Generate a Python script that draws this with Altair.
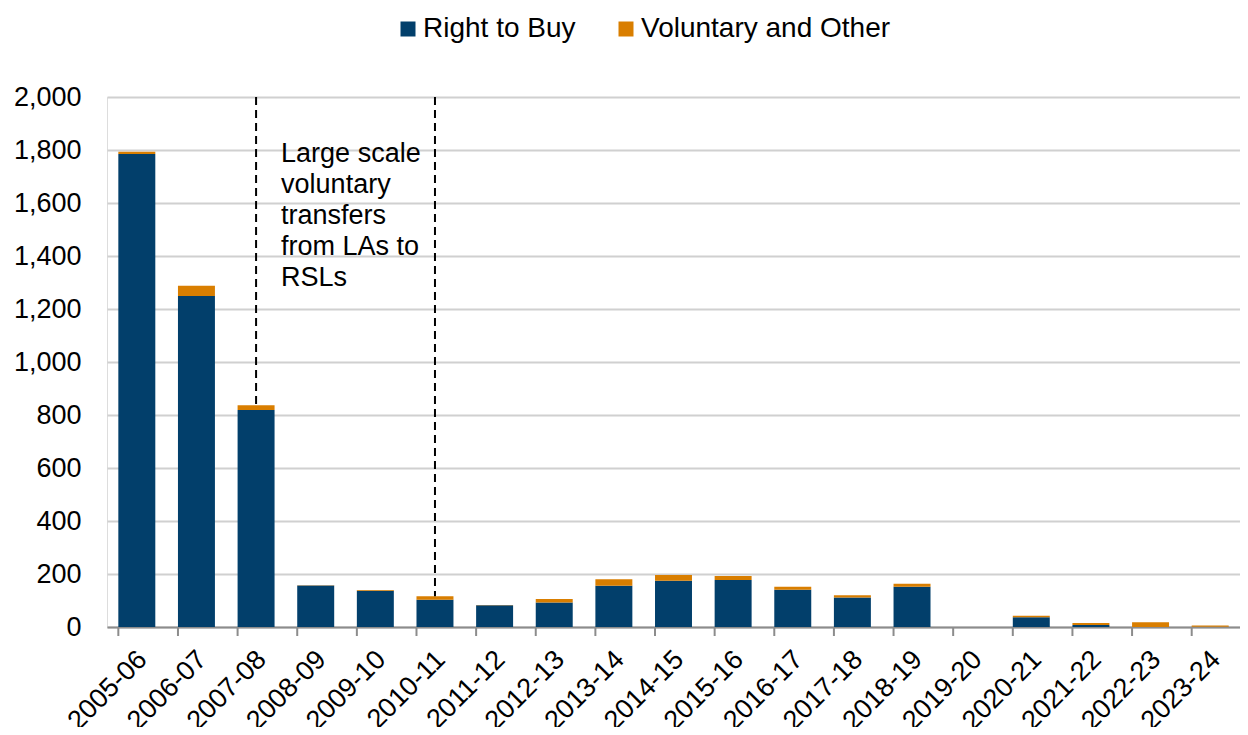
import altair as alt
import pandas as pd

periods = ["2005-06", "2006-07", "2007-08", "2008-09", "2009-10", "2010-11",
           "2011-12", "2012-13", "2013-14", "2014-15", "2015-16", "2016-17",
           "2017-18", "2018-19", "2019-20", "2020-21", "2021-22", "2022-23",
           "2023-24"]
right_to_buy = [1785, 1249, 819, 157, 137, 103, 82, 92, 156, 175, 177, 141,
                111, 152, 0, 37, 8, 0, 1]
voluntary = [8, 39, 18, 1, 3, 13, 1, 14, 24, 21, 15, 11, 9, 11, 0, 5, 7, 18, 5]
series = ["Right to Buy", "Voluntary and Other"]
colors = ["#023F6B", "#D97E00"]

marker_periods = ["2007-08", "2010-11"]
note_lines = ["Large scale", "voluntary", "transfers", "from LAs to", "RSLs"]

rows = []
for p, a, b in zip(periods, right_to_buy, voluntary):
    rows.append({"period": p, "series": series[0], "value": a, "ord": 0})
    rows.append({"period": p, "series": series[1], "value": b, "ord": 1})
df = pd.DataFrame(rows)

totals = {p: a + b for p, a, b in zip(periods, right_to_buy, voluntary)}
rules_df = pd.DataFrame({"period": marker_periods,
                         "top": [2000, 2000],
                         "bottom": [totals[p] for p in marker_periods]})
note_df = pd.DataFrame({"period": ["2007-08"], "y": [1753]})
tick_df = pd.DataFrame({"period": periods})

FONT = "Liberation Sans"
xscale = alt.Scale(domain=periods, paddingInner=0.38, paddingOuter=0.19)
yscale = alt.Scale(domain=[0, 2000])

bars = alt.Chart(df).mark_bar().encode(
    x=alt.X("period:N", scale=xscale, sort=periods, title=None,
            axis=alt.Axis(labelAngle=-45, labelFontSize=27, labelColor="#000000",
                          labelFont=FONT, ticks=False, domainColor="#8c8c8c",
                          domainWidth=2, labelPadding=28, labelOffset=6,
                          labelAlign="right", labelBaseline="middle",
                          grid=False, labelLimit=300)),
    y=alt.Y("value:Q", stack="zero", scale=yscale, title=None,
            axis=alt.Axis(values=list(range(0, 2001, 200)), format=",.0f",
                          labelFontSize=27, labelColor="#000000", labelFont=FONT,
                          domain=False, ticks=False, labelPadding=26,
                          grid=True, gridColor="#d0d0d0", gridWidth=2)),
    color=alt.Color("series:N", scale=alt.Scale(domain=series, range=colors),
                    title=None,
                    legend=alt.Legend(orient="none", direction="horizontal",
                                      legendX=287, legendY=-82,
                                      symbolType="square", symbolSize=225,
                                      symbolStrokeWidth=0, labelFontSize=28,
                                      labelFont=FONT, labelColor="#000000",
                                      labelOffset=1, columnPadding=36,
                                      labelLimit=500, padding=0)),
    order=alt.Order("ord:Q"),
)

ticks = alt.Chart(tick_df).mark_rule(color="#8c8c8c", strokeWidth=2).encode(
    x=alt.X("period:N", scale=xscale, sort=periods, bandPosition=0),
    y=alt.value(530),
    y2=alt.value(539),
)

rules = alt.Chart(rules_df).mark_rule(color="#000000", strokeWidth=2,
                                       strokeDash=[8, 5]).encode(
    x=alt.X("period:N", scale=xscale, sort=periods),
    y=alt.Y("top:Q", scale=yscale),
    y2="bottom:Q",
)

note = alt.Chart(note_df).mark_text(
    text=note_lines, align="left", baseline="alphabetic", dx=25,
    lineHeight=31, fontSize=27, font=FONT, color="#000000",
).encode(
    x=alt.X("period:N", scale=xscale, sort=periods),
    y=alt.Y("y:Q", scale=yscale),
)

chart = alt.layer(bars, ticks, rules, note).properties(
    width=1133, height=530,
    autosize=alt.AutoSizeParams(type="none"),
    padding={"left": 99, "top": 89, "right": 0, "bottom": 100},
).configure_view(stroke=None).configure(font=FONT)

chart.save("out.html", embed_options={"renderer": "svg", "actions": False})
